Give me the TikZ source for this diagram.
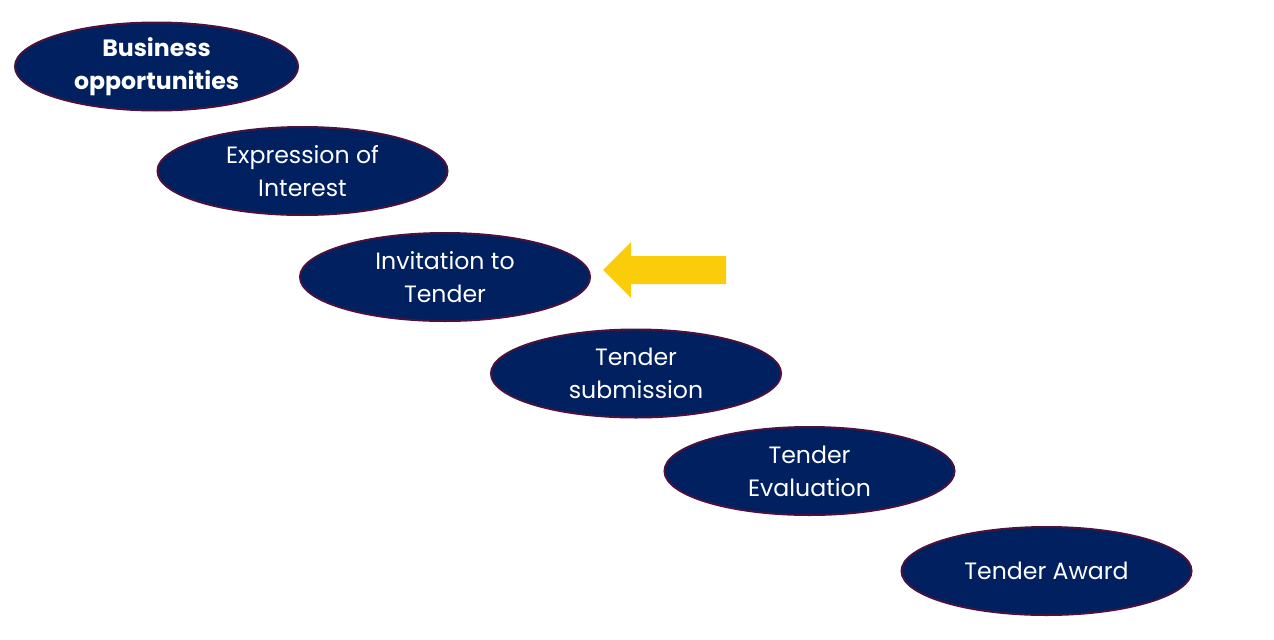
\documentclass[tikz,border=0pt]{standalone}
\usepackage{fontspec}
\setmainfont{Poppins}
\usepackage{tikz}
\usetikzlibrary{shapes.geometric}
\definecolor{cNavy}{RGB}{  0, 32, 96}
\definecolor{cPlum}{RGB}{ 75, 18, 62}
\definecolor{cYel}{RGB}{250,204, 10}
\tikzset{
  stage/.style ={ellipse,draw=cPlum,fill=cNavy,line width=1.4pt,inner sep=0pt,
                 minimum width=7.25cm,minimum height=2.2cm,align=center,
                 text=white,font=\fontsize{16.8}{23.5}\selectfont},
  stagebf/.style={stage,font=\fontsize{16.8}{23.5}\selectfont\bfseries},
}

\begin{document}
\begin{tikzpicture}[x=0.025cm,y=-0.025cm]
\useasboundingbox (0,0) rectangle (1274,639);

%% stages, stepping down to the right (pixel grid of the slide)
\node[stagebf,minimum width=7.075cm] (bo) at (156.5,66.5) {Business\\opportunities};
\node[stage] (ei) at (302.5,171)   {Expression of\\Interest};
\node[stage] (it) at (445,277)     {Invitation to\\Tender};
\node[stage] (ts) at (636,373.5)   {Tender\\submission};
\node[stage] (te) at (809.5,471)   {Tender\\Evaluation};
\node[stage] (ta) at (1046.5,571)  {Tender Award};

%% marker: current stage
\fill[cYel] (603,270) -- (631,242) -- (631,256) -- (726,256)
  -- (726,284) -- (631,284) -- (631,298) -- cycle;

\end{tikzpicture}
\end{document}
